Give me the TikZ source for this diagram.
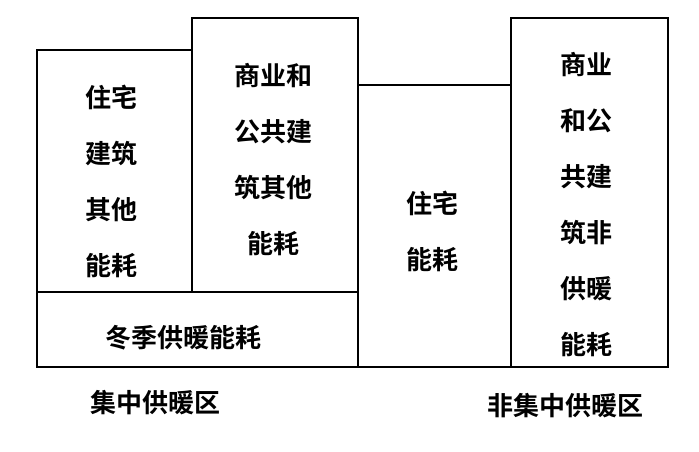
\documentclass[tikz,border=0pt]{standalone}
\usepackage{fontspec}
\newfontfamily\cjk{Noto Sans CJK SC Bold}
\begin{document}
\begin{tikzpicture}[x=1pt,y=-1pt,
  bx/.style={draw,line width=1.6pt},
  t/.style={font=\cjk\fontsize{26}{56}\selectfont,align=center,text depth=0pt}]
\useasboundingbox (0,0) rectangle (699,451);
\draw[bx] (37,292) rectangle (358,367);
\draw[bx] (37,50) rectangle (192,292);
\draw[bx] (192,18) rectangle (358,292);
\draw[bx] (358,85) rectangle (511,367);
\draw[bx] (511,18) rectangle (668,367);
\node[t] (a) at (183,336) {冬季供暖能耗};
\node[t] (b) at (111,180) {住宅\\建筑\\其他\\能耗};
\node[t] (c) at (273,158) {商业和\\公共建\\筑其他\\能耗};
\node[t] (d) at (432,230) {住宅\\能耗};
\node[t] (e) at (586,203) {商业\\和公\\共建\\筑非\\供暖\\能耗};
\node[t] (f) at (155,401) {集中供暖区};
\node[t] (g) at (565,404) {非集中供暖区};
\end{tikzpicture}
\end{document}
